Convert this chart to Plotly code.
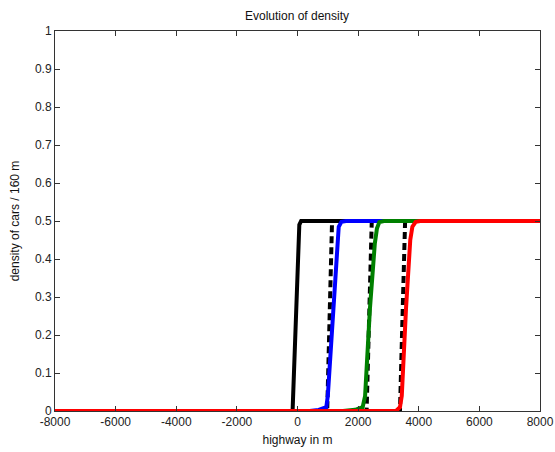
import plotly.graph_objects as go

# Data
black_x = [-8000, -180, -160, 60, 120, 8000]
black_y = [0, 0, 0.005, 0.49, 0.5, 0.5]

exact1_x = [-8000, 980, 1140, 8000]
exact1_y = [0, 0, 0.5, 0.5]
exact2_x = [-8000, 2280, 2450, 8000]
exact2_y = [0, 0, 0.5, 0.5]
exact3_x = [-8000, 3380, 3550, 8000]
exact3_y = [0, 0, 0.5, 0.5]

blue_x = [-8000, 400, 700, 950, 1000, 1180, 1300, 1360, 1450, 1600, 8000]
blue_y = [0, 0, 0.003, 0.01, 0.04, 0.27, 0.45, 0.485, 0.498, 0.5, 0.5]

green_x = [-8000, 1500, 1900, 2150, 2230, 2390, 2550, 2620, 2700, 2850, 8000]
green_y = [0, 0, 0.003, 0.01, 0.04, 0.27, 0.44, 0.48, 0.497, 0.5, 0.5]

red_x = [-8000, 3250, 3380, 3440, 3580, 3720, 3790, 3900, 4050, 8000]
red_y = [0, 0, 0.01, 0.04, 0.27, 0.45, 0.485, 0.498, 0.5, 0.5]

x_ticks = [-8000, -6000, -4000, -2000, 0, 2000, 4000, 6000, 8000]
y_ticks = [0, 0.1, 0.2, 0.3, 0.4, 0.5, 0.6, 0.7, 0.8, 0.9, 1]
y_labels = ["0", "0.1", "0.2", "0.3", "0.4", "0.5", "0.6", "0.7", "0.8", "0.9", "1"]

fig = go.Figure()
LW = 4
fig.add_trace(go.Scatter(x=black_x, y=black_y, mode="lines",
                         line=dict(color="black", width=LW)))
for ex, ey in [(exact1_x, exact1_y), (exact2_x, exact2_y), (exact3_x, exact3_y)]:
    fig.add_trace(go.Scatter(x=ex, y=ey, mode="lines",
                             line=dict(color="black", width=LW, dash="7px,4px")))
fig.add_trace(go.Scatter(x=blue_x, y=blue_y, mode="lines",
                         line=dict(color="#0000ff", width=LW)))
fig.add_trace(go.Scatter(x=green_x, y=green_y, mode="lines",
                         line=dict(color="#008000", width=LW)))
fig.add_trace(go.Scatter(x=red_x, y=red_y, mode="lines",
                         line=dict(color="#ff0000", width=LW)))

FAM = "Liberation Sans, Arial, sans-serif"
font = dict(family=FAM, size=12, color="#222222")
axis_common = dict(showgrid=False, zeroline=False, showline=True, linecolor="#333333",
                   linewidth=1, mirror="ticks", ticks="inside", ticklen=5,
                   tickcolor="#333333", tickfont=font, automargin=False)

fig.update_layout(
    width=555, height=452,
    margin=dict(l=55, r=15, t=31, b=41),
    plot_bgcolor="white", paper_bgcolor="white",
    showlegend=False,
    font=font,
    title=dict(text="Evolution of density", x=297 / 555, xanchor="center",
               y=1 - 16 / 452, yanchor="middle",
               font=dict(size=12, color="#111111", family=FAM)),
    xaxis=dict(range=[-8000, 8000], tickvals=x_ticks,
               ticktext=[str(v) for v in x_ticks],
               title=dict(text="highway in m", standoff=7,
                          font=dict(size=12, color="#111111", family=FAM)),
               **axis_common),
    yaxis=dict(range=[0, 1], tickvals=y_ticks, ticktext=y_labels,
               title=dict(text="density of cars / 160 m", standoff=12,
                          font=dict(size=12, color="#111111", family=FAM)),
               **axis_common),
)

fig.write_html("out.html")
